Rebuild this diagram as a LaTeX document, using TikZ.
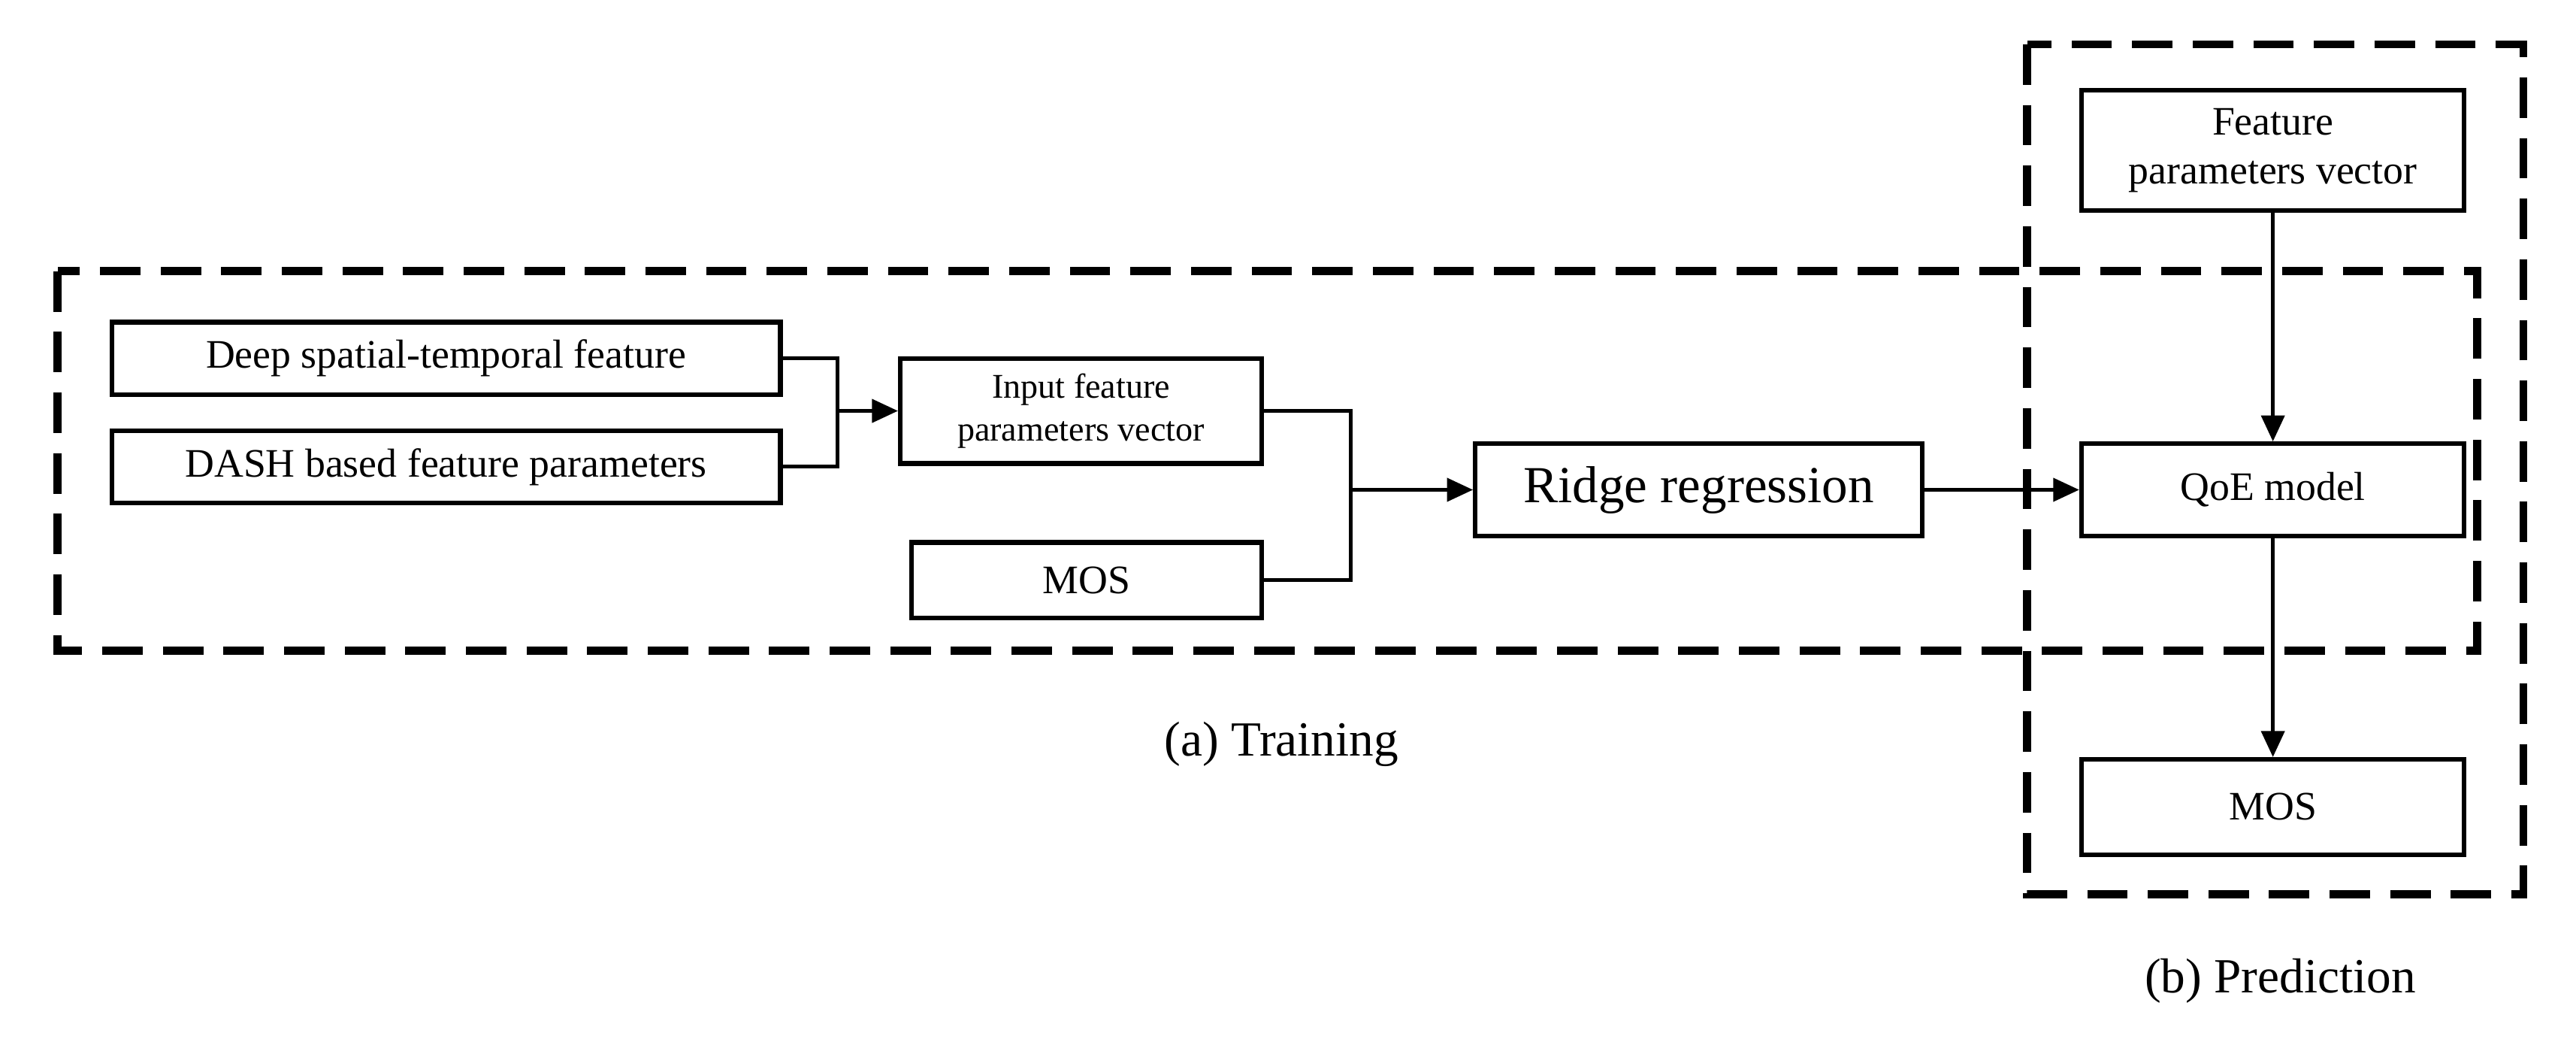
\documentclass[tikz,border=0pt]{standalone}
\usepackage{fontspec}
\setmainfont{Liberation Serif}
\usetikzlibrary{arrows.meta}
\begin{document}
\begin{tikzpicture}[x=0.02cm,y=-0.02cm,
  box/.style={draw,line width=1.6pt,inner sep=0pt,align=center,font=\fontsize{14}{17}\selectfont},
  dbox/.style={draw,line width=2.8pt,dash pattern=on 14pt off 7pt},
  arr/.style={line width=1.3pt,-{Triangle[length=9pt,width=8pt]}},
  ln/.style={line width=1.3pt}]
\useasboundingbox (0,0) rectangle (1568,632);
\draw[dbox] (35,165) rectangle (1508,396);
\draw[dbox] (1234,27) rectangle (1536,544);
\node[box,minimum width=407*0.02cm,minimum height=44*0.02cm] (deep) at (271.5,218) {Deep spatial-temporal feature};
\node[box,minimum width=407*0.02cm,minimum height=44*0.02cm] (dash) at (271.5,284) {DASH based feature parameters};
\node[box,minimum width=220*0.02cm,minimum height=64*0.02cm,font=\fontsize{12}{15}\selectfont] (inp) at (658,250) {Input feature\\parameters vector};
\node[box,minimum width=213*0.02cm,minimum height=46*0.02cm] (mos1) at (661.5,353) {MOS};
\node[box,minimum width=272*0.02cm,minimum height=56*0.02cm,font=\fontsize{18}{21}\selectfont] (ridge) at (1034,298) {Ridge regression};
\node[box,minimum width=233*0.02cm,minimum height=56*0.02cm] (qoe) at (1383.5,298) {QoE model};
\node[box,minimum width=233*0.02cm,minimum height=73*0.02cm] (fpv) at (1383.5,91.5) {Feature\\parameters vector};
\node[box,minimum width=233*0.02cm,minimum height=58*0.02cm] (mos2) at (1383.5,491) {MOS};
\coordinate (j1) at (510,250);
\coordinate (j2) at (822,298);
\draw[ln] (deep.east) -| (j1) |- (dash.east);
\draw[arr] (j1) -- (inp.west);
\draw[ln] (inp.east) -| (j2) |- (mos1.east);
\draw[arr] (j2) -- (ridge.west);
\draw[arr] (ridge.east) -- (qoe.west);
\draw[arr] (fpv.south) -- (qoe.north);
\draw[arr] (qoe.south) -- (mos2.north);
\node[font=\fontsize{17}{20}\selectfont] (ta) at (780,453) {(a) Training};
\node[font=\fontsize{17}{20}\selectfont] (tb) at (1388,597) {(b) Prediction};
\end{tikzpicture}
\end{document}
